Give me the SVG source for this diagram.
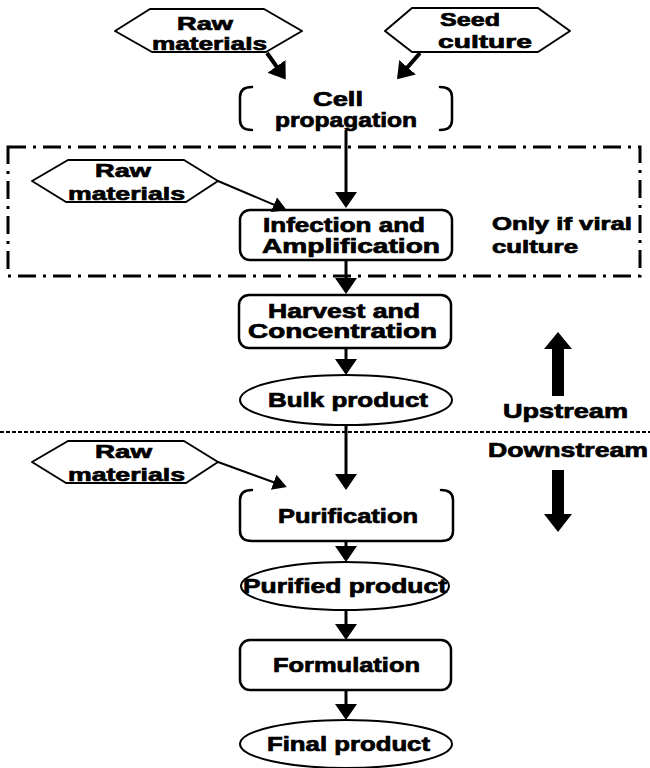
<svg xmlns="http://www.w3.org/2000/svg" width="650" height="768" viewBox="0 0 650 768">
  <style>
    .bg { fill: #ffffff; }
    .t { font-family: "Liberation Sans", Arial, sans-serif; font-weight: bold; font-size: 20px; fill: #000; stroke: #000; stroke-width: 0.7px; }
    .ts { font-size: 19px; }
    .tn { font-size: 18px; }
    .shape { fill: none; stroke: #000; stroke-width: 2.5; stroke-linejoin: round; stroke-linecap: round; }
    .hex { fill: #fff; stroke: #000; stroke-width: 2; stroke-linejoin: round; }
    .ell { fill: none; stroke: #000; stroke-width: 2; }
    .flow { fill: none; stroke: #000; stroke-width: 3; }
    .feed { fill: none; stroke: #000; stroke-width: 4; }
    .thin { fill: none; stroke: #000; stroke-width: 2; }
    .frame { fill: none; stroke: #000; stroke-width: 3; stroke-dasharray: 18 7 3 7; }
    .divider { fill: none; stroke: #000; stroke-width: 2; stroke-dasharray: 4 2; }
    .big { fill: #000; }
  </style>
  <defs>
    <marker id="head" markerUnits="userSpaceOnUse" markerWidth="18" markerHeight="24" refX="13" refY="11" orient="auto">
      <path d="M0,0 L16,11 L0,22 z" fill="#000"/>
    </marker>
    <marker id="headS" markerUnits="userSpaceOnUse" markerWidth="16" markerHeight="20" refX="11" refY="8" orient="auto">
      <path d="M0,0 L14,8 L0,16 z" fill="#000"/>
    </marker>
  </defs>

  <rect class="bg" x="0" y="0" width="650" height="768"/>

  <!-- optional viral stage frame -->
  <rect class="frame" x="8" y="147" width="632" height="129"/>

  <!-- upstream / downstream divider -->
  <line class="divider" x1="0" y1="432" x2="650" y2="432"/>

  <g id="connectors">
    <line class="feed" x1="267" y1="53" x2="284" y2="77" marker-end="url(#head)"/>
    <line class="feed" x1="420" y1="53" x2="399" y2="77" marker-end="url(#head)"/>
    <line class="flow" x1="346" y1="130" x2="346" y2="205" marker-end="url(#head)"/>
    <line class="thin" x1="218" y1="181" x2="284" y2="209" marker-end="url(#headS)"/>
    <line class="flow" x1="346" y1="260" x2="346" y2="291" marker-end="url(#head)"/>
    <line class="flow" x1="346" y1="348" x2="346" y2="372" marker-end="url(#head)"/>
    <line class="flow" x1="346" y1="425" x2="346" y2="487" marker-end="url(#head)"/>
    <line class="thin" x1="218" y1="462" x2="284" y2="486" marker-end="url(#headS)"/>
    <line class="flow" x1="346" y1="541" x2="346" y2="559" marker-end="url(#head)"/>
    <line class="flow" x1="346" y1="610" x2="346" y2="637" marker-end="url(#head)"/>
    <line class="flow" x1="346" y1="690" x2="346" y2="717" marker-end="url(#head)"/>
  </g>

  <g id="raw1">
    <polygon class="hex" points="115,31 150,9 264,9 302,31 266,52 152,52"/>
    <text class="t ts" x="177" y="30" textLength="56" lengthAdjust="spacingAndGlyphs">Raw</text>
    <text class="t ts" x="152" y="50" textLength="115" lengthAdjust="spacingAndGlyphs">materials</text>
  </g>

  <g id="seed">
    <polygon class="hex" points="385,31 412,8 538,8 570,31 538,52 412,52"/>
    <text class="t ts" x="440" y="26" textLength="60" lengthAdjust="spacingAndGlyphs">Seed</text>
    <text class="t ts" x="438" y="48" textLength="94" lengthAdjust="spacingAndGlyphs">culture</text>
  </g>

  <g id="cell">
    <path class="shape" d="M252,87 Q240,87 240,97 L240,120 Q240,130 252,130"/>
    <path class="shape" d="M440,87 Q452,87 452,97 L452,120 Q452,130 440,130"/>
    <text class="t" x="313" y="106" textLength="50" lengthAdjust="spacingAndGlyphs">Cell</text>
    <text class="t" x="275" y="127" textLength="142" lengthAdjust="spacingAndGlyphs">propagation</text>
  </g>

  <g id="raw2">
    <polygon class="hex" points="32,181 68,160 184,160 218,181 186,202 66,202"/>
    <text class="t ts" x="95" y="177" textLength="56" lengthAdjust="spacingAndGlyphs">Raw</text>
    <text class="t ts" x="68" y="200" textLength="117" lengthAdjust="spacingAndGlyphs">materials</text>
  </g>

  <g id="infection">
    <rect class="shape" x="240" y="210" width="212" height="50" rx="10"/>
    <text class="t" x="263" y="232" textLength="162" lengthAdjust="spacingAndGlyphs">Infection and</text>
    <text class="t" x="262" y="253" textLength="178" lengthAdjust="spacingAndGlyphs">Amplification</text>
  </g>

  <g id="viral-note">
    <text class="t tn" x="492" y="230" textLength="140" lengthAdjust="spacingAndGlyphs">Only if viral</text>
    <text class="t tn" x="492" y="253" textLength="86" lengthAdjust="spacingAndGlyphs">culture</text>
  </g>

  <g id="harvest">
    <rect class="shape" x="239" y="295" width="212" height="53" rx="10"/>
    <text class="t" x="268" y="318" textLength="152" lengthAdjust="spacingAndGlyphs">Harvest and</text>
    <text class="t" x="248" y="338" textLength="189" lengthAdjust="spacingAndGlyphs">Concentration</text>
  </g>

  <g id="bulk">
    <ellipse class="ell" cx="346" cy="400" rx="106" ry="25"/>
    <text class="t" x="268" y="407" textLength="160" lengthAdjust="spacingAndGlyphs">Bulk product</text>
  </g>

  <g id="upstream">
    <polygon class="big" points="552,396 564,396 564,349 572,349 558,332 544,349 552,349"/>
    <text class="t" x="503" y="418" textLength="125" lengthAdjust="spacingAndGlyphs">Upstream</text>
  </g>

  <g id="downstream">
    <text class="t" x="488" y="457" textLength="160" lengthAdjust="spacingAndGlyphs">Downstream</text>
    <polygon class="big" points="552,470 564,470 564,514 572,514 558,532 544,514 552,514"/>
  </g>

  <g id="raw3">
    <polygon class="hex" points="32,462 68,441 184,441 218,462 186,483 66,483"/>
    <text class="t ts" x="95" y="458" textLength="57" lengthAdjust="spacingAndGlyphs">Raw</text>
    <text class="t ts" x="68" y="481" textLength="117" lengthAdjust="spacingAndGlyphs">materials</text>
  </g>

  <g id="purification">
    <path class="shape" d="M252,490 Q240,490 240,500 L240,531 Q240,541 252,541 L441,541 Q453,541 453,531 L453,500 Q453,490 441,490"/>
    <text class="t" x="278" y="523" textLength="140" lengthAdjust="spacingAndGlyphs">Purification</text>
  </g>

  <g id="purified">
    <ellipse class="ell" cx="345" cy="586" rx="104" ry="24"/>
    <text class="t" x="243" y="593" textLength="204" lengthAdjust="spacingAndGlyphs">Purified product</text>
  </g>

  <g id="formulation">
    <rect class="shape" x="240" y="640" width="211" height="50" rx="10"/>
    <text class="t" x="273" y="672" textLength="147" lengthAdjust="spacingAndGlyphs">Formulation</text>
  </g>

  <g id="final">
    <ellipse class="ell" cx="346" cy="744" rx="106" ry="24"/>
    <text class="t" x="267" y="751" textLength="163" lengthAdjust="spacingAndGlyphs">Final product</text>
  </g>
</svg>
